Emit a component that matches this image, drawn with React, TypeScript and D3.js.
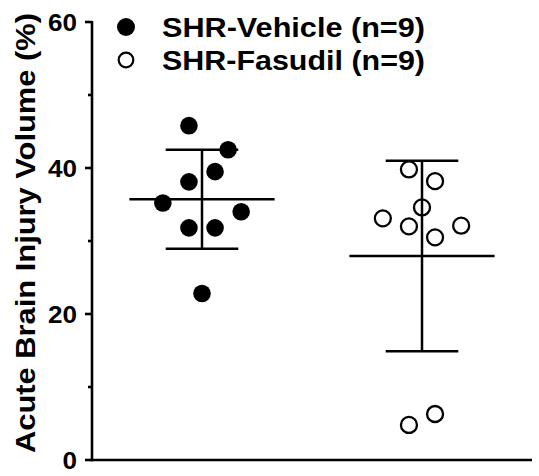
import React from "react";
import * as d3 from "d3";

const groups = ["SHR-Vehicle (n=9)", "SHR-Fasudil (n=9)"];
const vehicleValues = [45.8, 42.5, 39.5, 38.1, 35.2, 34.0, 31.8, 31.8, 22.8];
const vehicleJitter = [-1, 2, 1, -1, -3, 3, -1, 1, 0];
const fasudilValues = [39.8, 38.2, 34.6, 33.1, 32.0, 32.1, 30.5, 6.3, 4.8];
const fasudilJitter = [-1, 1, 0, -3, -1, 3, 1, 1, -1];
const majorTicks = [0, 20, 40, 60];
const minorTicks = [10, 30, 50];
const yTitle = "Acute Brain Injury Volume (%)";

const W = 539;
const H = 476;
const left = 92;
const right = 532;
const top = 22;
const bottom = 460;
const FONT = "'Liberation Sans', Arial, sans-serif";

export default function App() {
  const y = d3.scaleLinear().domain([0, 60]).range([bottom, top]);
  const x = d3.scalePoint<string>().domain(groups).range([left, right]).padding(0.5);
  const step = x.step();
  const jitter = d3.scaleLinear().domain([-3, 3]).range([-0.178 * step, 0.178 * step]);

  const series = [
    { name: groups[0], values: vehicleValues, jit: vehicleJitter, filled: true },
    { name: groups[1], values: fasudilValues, jit: fasudilJitter, filled: false },
  ];

  const meanHalf = 0.33 * step;
  const capHalf = 0.165 * step;
  const r = 8;

  return (
    <div style={{ position: "absolute", left: 0, top: 0 }}>
      <svg width={W} height={H} style={{ display: "block", background: "#fff" }}>
        {/* axes */}
        <line x1={left} x2={left} y1={y(60) - 1} y2={bottom + 1.25} stroke="#000" strokeWidth={2.6} />
        <line x1={left - 1.3} x2={right} y1={bottom} y2={bottom} stroke="#000" strokeWidth={2.6} />
        {majorTicks.map((t) => (
          <g key={"M" + t}>
            <line x1={left - 7} x2={left} y1={y(t)} y2={y(t)} stroke="#000" strokeWidth={2.6} />
            <text
              x={left - 15}
              y={y(t)}
              dy="0.36em"
              textAnchor="end"
              fontFamily={FONT}
              fontWeight="bold"
              fontSize={24}
              textLength={String(t).length * 14.5}
              lengthAdjust="spacingAndGlyphs"
              fill="#000"
            >
              {t}
            </text>
          </g>
        ))}
        {minorTicks.map((t) => (
          <line key={"m" + t} x1={left - 4} x2={left} y1={y(t)} y2={y(t)} stroke="#000" strokeWidth={2.6} />
        ))}
        <text
          transform={`translate(35, 233) rotate(-90)`}
          textAnchor="middle"
          fontFamily={FONT}
          fontWeight="bold"
          fontSize={27}
          textLength={440}
          lengthAdjust="spacingAndGlyphs"
          fill="#000"
        >
          {yTitle}
        </text>

        {/* data */}
        {series.map((s) => {
          const cx = x(s.name) as number;
          const m = d3.mean(s.values) as number;
          const sd = d3.deviation(s.values) as number;
          return (
            <g key={s.name}>
              {s.values.map((v, i) => (
                <circle
                  key={i}
                  cx={cx + jitter(s.jit[i])}
                  cy={y(v)}
                  r={s.filled ? 8.8 : r}
                  fill={s.filled ? "#000" : "none"}
                  stroke="#000"
                  strokeWidth={s.filled ? 0 : 2.3}
                />
              ))}
              <line x1={cx} x2={cx} y1={y(m + sd)} y2={y(m - sd)} stroke="#000" strokeWidth={2.5} />
              <line x1={cx - meanHalf} x2={cx + meanHalf} y1={y(m)} y2={y(m)} stroke="#000" strokeWidth={2.5} />
              <line x1={cx - capHalf} x2={cx + capHalf} y1={y(m + sd)} y2={y(m + sd)} stroke="#000" strokeWidth={2.5} />
              <line x1={cx - capHalf} x2={cx + capHalf} y1={y(m - sd)} y2={y(m - sd)} stroke="#000" strokeWidth={2.5} />
            </g>
          );
        })}

        {/* legend */}
        {series.map((s, i) => (
          <g key={"leg" + i} transform={`translate(126, ${27 + i * 33})`}>
            <circle
              r={s.filled ? 9 : 7.3}
              fill={s.filled ? "#000" : "none"}
              stroke="#000"
              strokeWidth={s.filled ? 0 : 2.2}
            />
            <text
              x={36}
              y={0}
              dy="0.36em"
              fontFamily={FONT}
              fontWeight="bold"
              fontSize={27}
              textLength={263}
              lengthAdjust="spacingAndGlyphs"
              fill="#000"
            >
              {s.name}
            </text>
          </g>
        ))}
      </svg>
    </div>
  );
}
